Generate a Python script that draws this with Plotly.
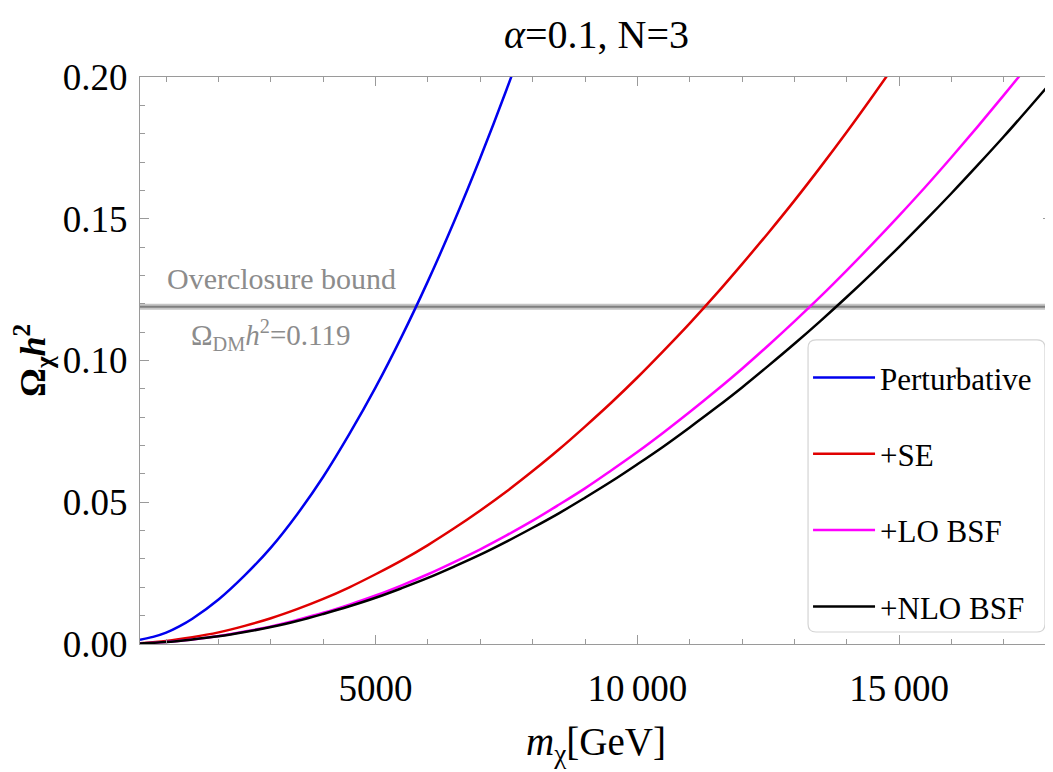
import plotly.graph_objects as go

# masses (GeV)
m_blue = [500, 750, 1000, 1250, 1500, 2000, 2500, 3000, 3500, 4000, 4500, 5000, 5500, 6000, 6500, 7000, 7500, 8000]
omega_pert = [0.0015, 0.0025, 0.0040, 0.0062, 0.0089, 0.0157, 0.0242, 0.0340, 0.0457, 0.0590, 0.0741, 0.0905,
              0.1085, 0.1280, 0.1490, 0.1715, 0.1955, 0.2210]

m_red = [500, 1000, 1500, 2000, 2500, 3000, 3500, 4000, 4500, 5000, 5500, 6000, 6500, 7000, 7500, 8000,
         8500, 9000, 9500, 10000, 10500, 11000, 11500, 12000, 12500, 13000, 13500, 14000, 14500, 15000]
omega_se = [0.0003, 0.0011, 0.0024, 0.0041, 0.0064, 0.0091, 0.0123, 0.0159, 0.0200, 0.0246, 0.0295, 0.0349,
            0.0408, 0.0471, 0.0538, 0.0610, 0.0686, 0.0767, 0.0851, 0.0940, 0.1034, 0.1131, 0.1233, 0.1340,
            0.1450, 0.1564, 0.1683, 0.1806, 0.1934, 0.2065]

m_long = [500, 1000, 1500, 2000, 2500, 3000, 3500, 4000, 4500, 5000, 5500, 6000, 6500, 7000, 7500, 8000,
          8500, 9000, 9500, 10000, 10500, 11000, 11500, 12000, 12500, 13000, 13500, 14000, 14500, 15000,
          15500, 16000, 16500, 17000, 17500, 18000]
omega_lo = [0.0002, 0.0007, 0.0016, 0.0028, 0.0044, 0.0062, 0.0085, 0.0110, 0.0139, 0.0171, 0.0207, 0.0246,
            0.0289, 0.0334, 0.0383, 0.0435, 0.0491, 0.0549, 0.0612, 0.0677, 0.0746, 0.0818, 0.0893, 0.0971,
            0.1053, 0.1138, 0.1226, 0.1318, 0.1413, 0.1511, 0.1612, 0.1717, 0.1825, 0.1936, 0.2050, 0.2170]
omega_nlo = [0.0002, 0.0007, 0.0016, 0.0027, 0.0042, 0.0060, 0.0081, 0.0106, 0.0133, 0.0163, 0.0197, 0.0233,
             0.0273, 0.0315, 0.0361, 0.0410, 0.0461, 0.0516, 0.0573, 0.0634, 0.0697, 0.0764, 0.0833, 0.0905,
             0.0981, 0.1059, 0.1140, 0.1224, 0.1311, 0.1401, 0.1494, 0.1590, 0.1689, 0.1790, 0.1895, 0.2002]

omega_dm = 0.119
x_tickvals = [5000, 10000, 15000]
x_ticktext = ["5000", "10\u2009000", "15\u2009000"]
y_tickvals = [0.0, 0.05, 0.10, 0.15, 0.20]
y_ticktext = ["0.00", "0.05", "0.10", "0.15", "0.20"]

FONT = "Liberation Serif"
GRAY = "#9a9a9a"

fig = go.Figure()
series = [
    ("Perturbative", m_blue, omega_pert, "#0000ee"),
    ("+SE", m_red, omega_se, "#e00000"),
    ("+LO BSF", m_long, omega_lo, "#ff00ff"),
    ("+NLO BSF", m_long, omega_nlo, "#000000"),
]
for i, (name, xs, ys, col) in enumerate(series):
    fig.add_trace(go.Scatter(x=xs, y=ys, mode="lines", name=name, legendgroup=f"g{i}",
                             line=dict(color=col, width=2.5, shape="spline", smoothing=1.0)))

# overclosure band
fig.add_shape(type="line", xref="paper", x0=0, x1=1, yref="y", y0=omega_dm, y1=omega_dm,
              line=dict(color="rgba(150,150,150,0.55)", width=6), layer="below")
fig.add_shape(type="line", xref="paper", x0=0, x1=1, yref="y", y0=omega_dm, y1=omega_dm,
              line=dict(color="#7f7f7f", width=2), layer="below")

# rounded legend frame (paper coordinates)
lx0, lx1, ly0, ly1 = 0.7325, 0.9923, 0.0212, 0.5362
rx, ry = 0.0088, 0.0141
legend_path = (f"M {lx0+rx},{ly1} L {lx1-rx},{ly1} Q {lx1},{ly1} {lx1},{ly1-ry} "
               f"L {lx1},{ly0+ry} Q {lx1},{ly0} {lx1-rx},{ly0} L {lx0+rx},{ly0} "
               f"Q {lx0},{ly0} {lx0},{ly0+ry} L {lx0},{ly1-ry} Q {lx0},{ly1} {lx0+rx},{ly1} Z")
fig.add_shape(type="path", xref="paper", yref="paper", path=legend_path,
              fillcolor="white", line=dict(color="#d4d4d4", width=1.2), layer="above")

fig.add_annotation(x=3200, y=0.1291, xref="x", yref="y", text="Overclosure bound", showarrow=False,
                   font=dict(family=FONT, size=30, color="#8c8c8c"))
fig.add_annotation(x=3000, y=0.1090, xref="x", yref="y",
                   text="Ω<sub>DM</sub><i>h</i><sup>2</sup>=0.119", showarrow=False,
                   font=dict(family=FONT, size=29, color="#8c8c8c"))

# title and axis titles
fig.add_annotation(x=0.5, y=1.075, xref="paper", yref="paper", text="<i>α</i>=0.1, N=3", showarrow=False,
                   font=dict(family=FONT, size=40, color="black"), yanchor="middle")
fig.add_annotation(x=0.5, y=-0.178, xref="paper", yref="paper", text="<i>m</i><sub>χ</sub>[GeV]",
                   showarrow=False, font=dict(family=FONT, size=39, color="black"), yanchor="middle")
fig.add_annotation(x=-0.118, y=0.5, xref="paper", yref="paper", text="<b>Ω<sub>χ</sub><i>h</i><sup>2</sup></b>",
                   showarrow=False, textangle=-90, font=dict(family=FONT, size=36, color="black"),
                   xanchor="center", yanchor="middle")

axis_common = dict(showline=True, linecolor=GRAY, linewidth=1, mirror="ticks", ticks="inside",
                   tickcolor=GRAY, ticklen=9, tickwidth=1, showgrid=False, zeroline=False,
                   tickfont=dict(family=FONT, size=37, color="black"))

fig.update_xaxes(range=[500, 17920], tickvals=x_tickvals, ticktext=x_ticktext,
                 minor=dict(dtick=1000, tick0=0, ticks="inside", ticklen=5, tickcolor=GRAY),
                 ticklabelstandoff=12, **axis_common)
fig.update_yaxes(range=[0, 0.2], tickvals=y_tickvals, ticktext=y_ticktext,
                 minor=dict(dtick=0.01, tick0=0, ticks="inside", ticklen=5, tickcolor=GRAY),
                 ticklabelstandoff=4, **axis_common)

# page body has an 8px margin: size the figure so the plot frame lands where the reference has it
fig.update_layout(
    width=1045, height=764,
    margin=dict(l=132, r=1, t=69, b=128),
    paper_bgcolor="white", plot_bgcolor="white",
    showlegend=True,
    legend=dict(x=0.7325, y=0.517, xanchor="left", yanchor="top",
                bgcolor="rgba(0,0,0,0)", borderwidth=0,
                font=dict(family=FONT, size=31, color="black"),
                tracegroupgap=33, itemwidth=62),
)

fig.write_html("out.html")
